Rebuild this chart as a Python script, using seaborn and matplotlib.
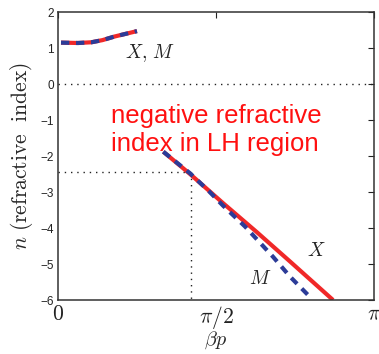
import numpy as np
import pandas as pd
import matplotlib
matplotlib.use("Agg")
import matplotlib.pyplot as plt
import seaborn as sns

# ---- data ----
beta_upper = [0.027, 0.196, 0.330, 0.440, 0.560, 0.783]
n_upper = [1.15, 1.14, 1.16, 1.22, 1.32, 1.47]

beta_X = [1.045, 1.311, 1.640, 1.978, 2.306, 2.734]
n_X = [-1.88, -2.50, -3.31, -4.12, -4.93, -6.0]

beta_M = [1.045, 1.311, 1.50, 1.640, 1.859, 2.137, 2.306, 2.485]
n_M = [-1.88, -2.48, -2.98, -3.38, -3.96, -4.80, -5.35, -5.86]

marker_beta = 1.318
marker_n = -2.45

xtick_vals = [0, np.pi / 2, np.pi]
xtick_labels = [r"$0$", r"$\pi/2$", r"$\pi$"]
ytick_vals = [2, 1, 0, -1, -2, -3, -4, -5, -6]

sns.set_style("white")
plt.rcParams["font.family"] = ["Liberation Sans", "DejaVu Sans"]
plt.rcParams["mathtext.fontset"] = "cm"
plt.rcParams["axes.unicode_minus"] = True

RED = "#f02828"
BLUE = "#2c3c98"

fig = plt.figure(figsize=(3.79, 3.54), dpi=100)
fig.patch.set_facecolor("white")
ax = fig.add_axes([0.1538, 0.1525, 0.8330, 0.8135])

up = pd.DataFrame({"beta": beta_upper, "n": n_upper})
dx = pd.DataFrame({"beta": beta_X, "n": n_X})
dm = pd.DataFrame({"beta": beta_M, "n": n_M})

# reference dotted lines
dot = (0, (1, 3.5))
ax.axhline(0, color="#222222", lw=1.0, ls=dot)
ax.plot([0, marker_beta], [marker_n, marker_n], color="#222222", lw=1.0, ls=dot)
ax.plot([marker_beta, marker_beta], [marker_n, -6], color="#222222", lw=1.0, ls=dot)

# X (red solid) then M (blue dashed)
sns.lineplot(data=up, x="beta", y="n", ax=ax, color=RED, lw=3.0, solid_capstyle="butt")
sns.lineplot(data=dx, x="beta", y="n", ax=ax, color=RED, lw=3.0, solid_capstyle="butt")
sns.lineplot(data=up, x="beta", y="n", ax=ax, color=BLUE, lw=3.0,
             linestyle=(0, (2.0, 1.6)))
sns.lineplot(data=dm, x="beta", y="n", ax=ax, color=BLUE, lw=3.0,
             linestyle=(0, (2.0, 1.6)))

ax.set_xlim(0, np.pi)
ax.set_ylim(-6, 2)
ax.set_xticks(xtick_vals)
ax.set_xticklabels(xtick_labels, fontsize=15.5)
ax.set_yticks(ytick_vals)
ax.set_yticklabels([f"{v}".replace("-", "\u2212") for v in ytick_vals], fontsize=8.5)
ax.tick_params(direction="in", length=4, width=0.8, top=True, right=True,
               colors="#222222")
ax.tick_params(axis="x", pad=3)
ax.tick_params(axis="y", pad=3)
for s in ax.spines.values():
    s.set_color("#333333")
    s.set_linewidth(1.1)

ax.set_xlabel(r"$\beta p$", fontsize=14.5, labelpad=-1)
ax.set_ylabel(r"$n\ \mathrm{(refractive\ \ index)}$", fontsize=15.5, labelpad=4)

ax.text(0.66, 0.85, r"$X,\,M$", fontsize=14, ha="left", va="center")
ax.text(2.47, -4.65, r"$X$", fontsize=14, ha="left", va="center")
ax.text(1.90, -5.42, r"$M$", fontsize=14, ha="left", va="center")

ax.text(0.52, -1.28, "negative refractive\nindex in LH region", color="#ff1010",
        fontsize=18.5, ha="left", va="center", linespacing=1.2,
        family="Liberation Sans")

fig.savefig("out.png", dpi=100, facecolor="white")
